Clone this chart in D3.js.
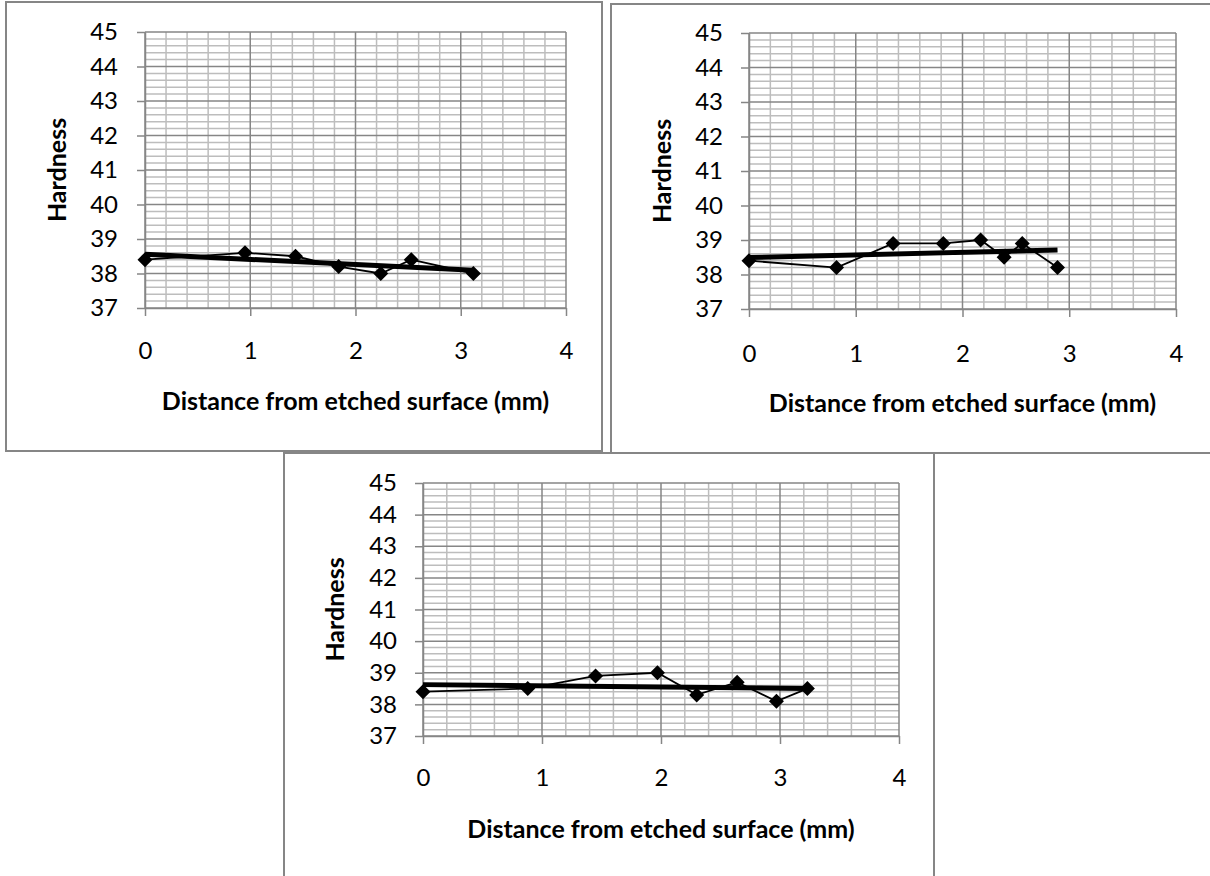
<!DOCTYPE html>
<html>
<head>
<meta charset="utf-8">
<script src="https://cdn.jsdelivr.net/npm/d3@7"></script>
<style>
  body { margin: 0; background: #fff; }
  svg { display: block; }
</style>
</head>
<body>
<div id="vis"></div>
<script>
// data
const distance1 = [0, 0.95, 1.43, 1.84, 2.24, 2.53, 3.12];
const hardness1 = [38.4, 38.6, 38.5, 38.2, 38.0, 38.4, 38.0];

const distance2 = [0, 0.82, 1.35, 1.82, 2.17, 2.39, 2.56, 2.89];
const hardness2 = [38.4, 38.2, 38.9, 38.9, 39.0, 38.5, 38.9, 38.2];

const distance3 = [0, 0.88, 1.45, 1.97, 2.30, 2.64, 2.97, 3.23];
const hardness3 = [38.4, 38.5, 38.9, 39.0, 38.3, 38.7, 38.1, 38.5];

const xTicks = [0, 1, 2, 3, 4];
const yTicks = [37, 38, 39, 40, 41, 42, 43, 44, 45];
const xTitle = "Distance from etched surface (mm)";
const yTitle = "Hardness";

// panel layout (pixels)
const panels = [
  { xs: distance1, ys: hardness1,
    box: [6, 2, 596, 449], plot: [145, 32, 566, 308],
    yLabelX: 57, xTickBase: 359, xTitleBase: 410, pad: 19 },
  { xs: distance2, ys: hardness2,
    box: [611, 4, 620, 449], plot: [749, 33, 1176, 309],
    yLabelX: 662, xTickBase: 362, xTitleBase: 412, pad: 18 },
  { xs: distance3, ys: hardness3,
    box: [284, 453, 650, 440], plot: [423, 483, 899, 736],
    yLabelX: 335, xTickBase: 786, xTitleBase: 838, pad: 18 }
];

const svg = d3.select('#vis')
  .append('svg')
  .attr('width', 1210)
  .attr('height', 876);

const font = "Lato, 'Open Sans', sans-serif";
const gridDark = "#868686";
const gridLight = "#bdbdbd";

// least squares line, same as the excel linear trendline
function linearFit(xs, ys) {
  const mx = d3.mean(xs), my = d3.mean(ys);
  let sxy = 0, sxx = 0;
  xs.forEach((x, i) => { sxy += (x - mx) * (ys[i] - my); sxx += (x - mx) * (x - mx); });
  const b = sxy / sxx;
  return { a: my - b * mx, b: b };
}

function drawPanel(p) {
  const [l, t, r, b] = p.plot;
  const x = d3.scaleLinear().domain([0, 4]).range([l, r]);
  const y = d3.scaleLinear().domain([37, 45]).range([b, t]);
  const g = svg.append("g");

  // outer chart border
  g.append("rect")
    .attr("x", p.box[0]).attr("y", p.box[1])
    .attr("width", p.box[2]).attr("height", p.box[3])
    .attr("fill", "#fff")
    .attr("stroke", gridDark)
    .attr("stroke-width", 2);

  // minor grid every 0.2
  const minorX = d3.range(0, 4.001, 0.2).filter(v => Math.abs(v - Math.round(v)) > 1e-6);
  const minorY = d3.range(37, 45.001, 0.2).filter(v => Math.abs(v - Math.round(v)) > 1e-6);
  g.selectAll(".minx").data(minorX).enter().append("line")
    .attr("x1", d => x(d)).attr("x2", d => x(d))
    .attr("y1", t).attr("y2", b)
    .attr("stroke", gridLight).attr("stroke-width", 1.5);
  g.selectAll(".miny").data(minorY).enter().append("line")
    .attr("x1", l).attr("x2", r)
    .attr("y1", d => y(d)).attr("y2", d => y(d))
    .attr("stroke", gridLight).attr("stroke-width", 1.5);

  // major grid
  g.selectAll(".majx").data(xTicks).enter().append("line")
    .attr("x1", d => x(d)).attr("x2", d => x(d))
    .attr("y1", t).attr("y2", b)
    .attr("stroke", gridDark).attr("stroke-width", 1.5);
  g.selectAll(".majy").data(yTicks).enter().append("line")
    .attr("x1", l).attr("x2", r)
    .attr("y1", d => y(d)).attr("y2", d => y(d))
    .attr("stroke", gridDark).attr("stroke-width", 1.5);

  // axes
  const ya = g.append("g")
    .attr("transform", `translate(${l},0)`)
    .call(d3.axisLeft(y).tickValues(yTicks).tickFormat(d3.format("d"))
      .tickSize(8).tickSizeOuter(0).tickPadding(p.pad));
  const xa = g.append("g")
    .attr("transform", `translate(0,${b})`)
    .call(d3.axisBottom(x).tickValues(xTicks).tickFormat(d3.format("d"))
      .tickSize(8).tickSizeOuter(0));
  [ya, xa].forEach(a => {
    a.select(".domain").attr("stroke", gridDark).attr("stroke-width", 1.5);
    a.selectAll(".tick line").attr("stroke", gridDark).attr("stroke-width", 1.5);
    a.selectAll("text")
      .style("font-family", font).style("font-size", "24px").attr("fill", "#000");
  });
  xa.selectAll("text").attr("dy", null).attr("y", p.xTickBase - b);

  // data line
  const line = d3.line().x(d => x(d[0])).y(d => y(d[1]));
  const pts = p.xs.map((v, i) => [v, p.ys[i]]);
  g.append("path")
    .datum(pts)
    .attr("d", line)
    .attr("fill", "none")
    .attr("stroke", "#000")
    .attr("stroke-width", 1.8);

  // trendline
  const fit = linearFit(p.xs, p.ys);
  const x0 = d3.min(p.xs), x1 = d3.max(p.xs);
  g.append("path")
    .datum([[x0, fit.a + fit.b * x0], [x1, fit.a + fit.b * x1]])
    .attr("d", line)
    .attr("fill", "none")
    .attr("stroke", "#000")
    .attr("stroke-width", 5);

  // diamond markers
  const rr = 7.5;
  g.selectAll(".pt").data(pts).enter().append("path")
    .attr("d", `M0,${-rr}L${rr},0L0,${rr}L${-rr},0Z`)
    .attr("transform", d => `translate(${x(d[0])},${y(d[1])})`)
    .attr("fill", "#000");

  // titles
  g.append("text")
    .attr("x", (l + r) / 2)
    .attr("y", p.xTitleBase)
    .attr("text-anchor", "middle")
    .style("font-family", font).style("font-size", "25px").style("font-weight", "bold")
    .text(xTitle);
  g.append("text")
    .attr("transform", `translate(${p.yLabelX},${(t + b) / 2}) rotate(-90)`)
    .attr("text-anchor", "middle")
    .attr("dy", "0.35em")
    .style("font-family", font).style("font-size", "25px").style("font-weight", "bold")
    .text(yTitle);
}

panels.forEach(drawPanel);
</script>
</body>
</html>
